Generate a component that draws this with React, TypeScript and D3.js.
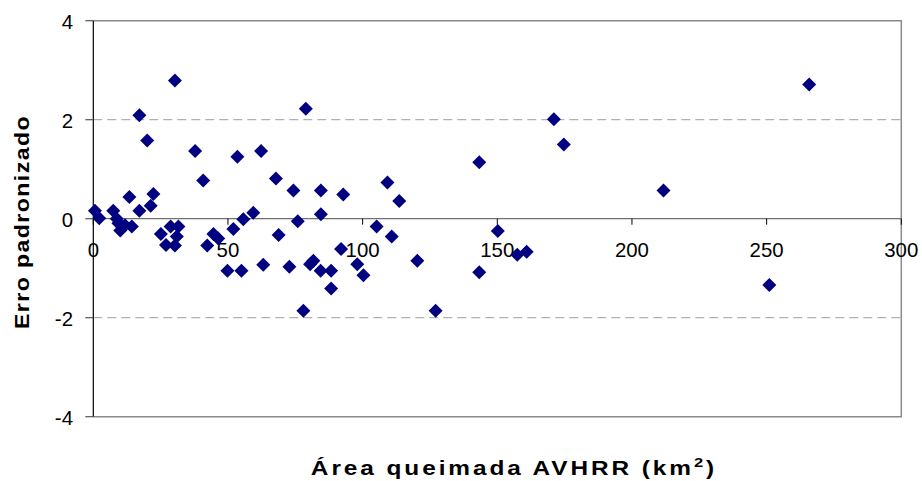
import React from "react";
import * as d3 from "d3";

const xs: number[] = [
  30.3, 17.1, 20.0, 37.8, 40.8, 53.5, 62.3, 67.8, 13.4, 22.3, 21.3, 17.1,
  0.6, 2.2, 7.4, 8.7, 9.3, 10.6, 11.8, 10.0, 14.3, 28.7, 31.6, 25.1, 31.0,
  27.0, 30.3, 44.6, 46.4, 42.3, 52.0, 55.7, 59.4, 49.8, 55.0, 63.1, 68.8,
  78.9, 74.3, 84.5, 92.8, 109.2, 113.6, 84.5, 75.9, 105.2, 110.8, 92.0,
  72.8, 80.5, 81.7, 84.4, 88.3, 88.3, 98.0, 100.3, 120.3, 143.3, 78.0,
  127.1, 265.8, 171.0, 174.7, 143.3, 211.7, 150.2, 157.4, 160.9, 251.0,
];
const ys: number[] = [
  2.79, 2.09, 1.58, 1.37, 0.77, 1.25, 1.37, 0.81, 0.44, 0.5, 0.26, 0.16,
  0.16, 0.01, 0.16, 0.0, -0.09, -0.16, -0.13, -0.24, -0.16, -0.16, -0.16,
  -0.31, -0.36, -0.53, -0.54, -0.31, -0.4, -0.54, -0.21, -0.01, 0.12,
  -1.05, -1.05, -0.93, -0.33, 2.22, 0.57, 0.57, 0.49, 0.73, 0.36, 0.09,
  -0.05, -0.16, -0.36, -0.61, -0.97, -0.92, -0.85, -1.05, -1.05, -1.41,
  -0.92, -1.14, -0.85, 1.14, -1.86, -1.86, 2.71, 2.01, 1.5, -1.08, 0.57,
  -0.25, -0.73, -0.67, -1.34,
];
const xTicks = [0, 50, 100, 150, 200, 250, 300];
const yTicks = [-4, -2, 0, 2, 4];
const gridVals = [-2, 2];
const xTitle = "Área queimada AVHRR (km";
const yTitle = "Erro padronizado";

export default function App() {
  const W = 922, H = 481;
  const left = 93.3, right = 901.3, top = 20.7, bottom = 416.7;
  const x = d3.scaleLinear().domain([0, 300]).range([left, right]);
  const y = d3.scaleLinear().domain([-4, 4]).range([bottom, top]);
  const font = "'Liberation Sans', Arial, sans-serif";
  const r = 7;
  const diamond = (cx: number, cy: number) =>
    `M${cx},${cy - r}L${cx + r},${cy}L${cx},${cy + r}L${cx - r},${cy}Z`;
  return (
    <svg width={W} height={H} style={{ position: "absolute", left: 0, top: 0, background: "#fff" }} fontFamily={font}>
      {gridVals.map((v) => (
        <line key={v} x1={left} x2={right} y1={y(v)} y2={y(v)} stroke="#b0b0b0" strokeWidth={1.2} strokeDasharray="9,5" />
      ))}
      <path d={`M${left},${top}H${right}V${bottom}H${left}`} fill="none" stroke="#8a8a8a" strokeWidth={1.5} />
      <line x1={left} x2={right} y1={y(0)} y2={y(0)} stroke="#707070" strokeWidth={1.2} />
      {xTicks.map((t) => (
        <g key={t}>
          <line x1={x(t)} x2={x(t)} y1={y(0)} y2={y(0) + 6} stroke="#000" strokeWidth={1} />
          <text x={x(t)} y={y(0) + 38.6} textAnchor="middle" fontSize={20.4} fill="#000">{t}</text>
        </g>
      ))}
      <line x1={left} x2={left} y1={top} y2={bottom} stroke="#000" strokeWidth={1.2} />
      {yTicks.map((t) => (
        <g key={t}>
          <line x1={left - 8} x2={left} y1={y(t)} y2={y(t)} stroke="#555" strokeWidth={1.2} />
          <text x={73} y={y(t) + 8.6} textAnchor="end" fontSize={20.4} fill="#000">{t}</text>
        </g>
      ))}
      {xs.map((v, i) => (
        <path key={i} d={diamond(x(v), y(ys[i]))} fill="#000080" />
      ))}
      <text transform="translate(514,475) scale(1.22,1)" textAnchor="middle" fontSize={20} fontWeight="bold" fill="#000" letterSpacing={2.4}>
        {xTitle}
        <tspan dy={-8} fontSize={13.5}>2</tspan>
        <tspan dy={8}>)</tspan>
      </text>
      <text transform={`translate(28.5,222) rotate(-90) scale(1.1,1)`} textAnchor="middle" fontSize={21} fontWeight="bold" fill="#000" letterSpacing={1.3}>
        {yTitle}
      </text>
    </svg>
  );
}
